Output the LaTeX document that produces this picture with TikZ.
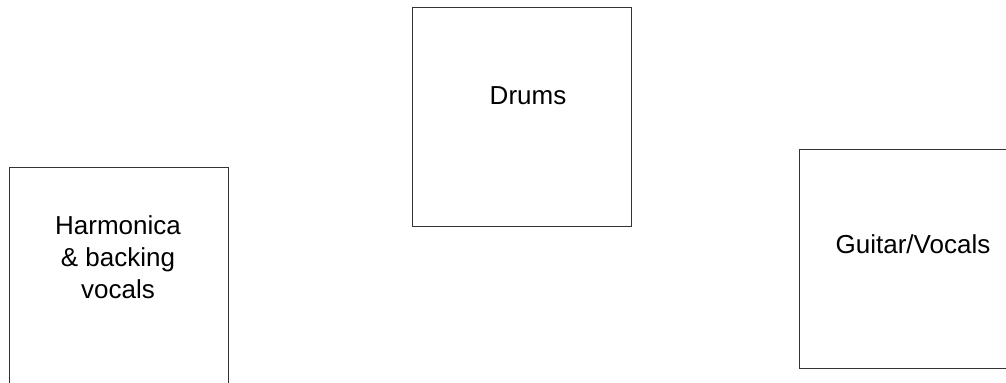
\documentclass[tikz,border=0pt]{standalone}
\usepackage{fontspec}
\setmainfont{Liberation Sans}

\newcommand*{\picw}{1006}
\newcommand*{\pich}{383}

\begin{document}
\begin{tikzpicture}
[
	x=0.5pt,y=-0.5pt,
	member/.style={draw=black!80,line width=0.6pt,inner sep=0pt,minimum size=109.5pt,anchor=north west},
	part/.style={font=\fontsize{13}{16}\selectfont,align=center,inner sep=0pt}
]

	% page
	\clip (0,0) rectangle (\picw,\pich);

	% stage places
	\node[member] at (9,167) (harp) {};
	\node[member] at (412,7) (drums) {};
	\node[member] at (799,149) (guitar) {};

	% who plays there
	\node[part] at (118,257) (harptext) {Harmonica\\\& backing\\vocals};
	\node[part] at (528,96) (drumstext) {Drums};
	\node[part] at (913,244) (guitartext) {Guitar/Vocals};

\end{tikzpicture}
\end{document}
